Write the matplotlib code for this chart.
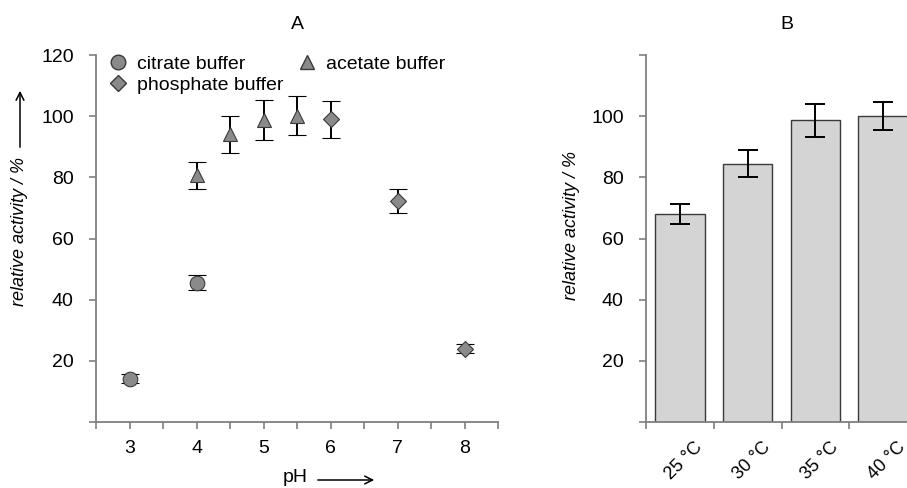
import matplotlib
matplotlib.use("Agg")
import matplotlib.pyplot as plt
import matplotlib.transforms as mtrans
from matplotlib.lines import Line2D

plt.rcParams["font.family"] = ["Liberation Sans", "DejaVu Sans"]
plt.rcParams["font.size"] = 14

# panel A: activity vs pH
citrate_ph = [3, 4]
citrate_act = [14.2, 45.6]
citrate_err = [1.5, 2.5]

acetate_ph = [4, 4.5, 5, 5.5]
acetate_act = [80.6, 94.1, 98.8, 100.2]
acetate_err = [4.5, 6.0, 6.5, 6.5]

phosphate_ph = [6, 7, 8]
phosphate_act = [99.0, 72.2, 24.0]
phosphate_err = [6.0, 4.0, 1.5]

# panel B: activity vs temperature
temps = ["25 °C", "30 °C", "35 °C", "40 °C"]
temp_act = [68.0, 84.5, 98.6, 100.0]
temp_err = [3.2, 4.5, 5.4, 4.6]

W, H = 907, 488
fig = plt.figure(figsize=(W / 100, H / 100), dpi=100)


def box(x0, x1, y0, y1):
    return [x0 / W, 1 - y1 / H, (x1 - x0) / W, (y1 - y0) / H]


spine_col = "#7f7f7f"
edge_col = "#3a3a3a"
mark_col = "#8a8a8a"
title_font = ["Liberation Sans Narrow", "Liberation Sans", "DejaVu Sans"]


def style_axes(ax):
    for s in ["top", "right"]:
        ax.spines[s].set_visible(False)
    for s in ["left", "bottom"]:
        ax.spines[s].set_color(spine_col)
        ax.spines[s].set_linewidth(1.3)
    ax.tick_params(which="both", direction="out", length=5, width=1.2,
                   color=spine_col, labelsize=14)
    ax.tick_params(axis="y", pad=11)
    ax.tick_params(axis="x", pad=8)
    ax.set_ylim(0, 120)
    ax.set_yticks(range(0, 121, 20))


axA = fig.add_axes(box(96, 498, 55, 422))
style_axes(axA)
ebkw = dict(ecolor="black", elinewidth=1.4, capsize=6.5, capthick=1.4, linestyle="none",
            markeredgecolor=edge_col, markeredgewidth=0.8, markerfacecolor=mark_col, zorder=3)
axA.errorbar(citrate_ph, citrate_act, yerr=citrate_err, marker="o", markersize=10.5, **ebkw)
axA.errorbar(acetate_ph, acetate_act, yerr=acetate_err, marker="^", markersize=10.5, **ebkw)
axA.errorbar(phosphate_ph, phosphate_act, yerr=phosphate_err, marker="D", markersize=8.5, **ebkw)
axA.set_xlim(2.5, 8.5)
axA.set_xticks(range(3, 9))
axA.set_xticks([2.5 + 0.5 * i for i in range(13)], minor=True)
axA.set_yticklabels([""] + [str(v) for v in range(20, 121, 20)])
axA.set_title("A", fontsize=14, pad=19, family=title_font)

handles = [
    Line2D([], [], marker="o", color="none", markerfacecolor=mark_col,
           markeredgecolor=edge_col, markersize=10.5),
    Line2D([], [], marker="D", color="none", markerfacecolor=mark_col,
           markeredgecolor=edge_col, markersize=8.5),
    Line2D([], [], marker="^", color="none", markerfacecolor=mark_col,
           markeredgecolor=edge_col, markersize=10.5),
]
axA.legend(handles, ["citrate buffer", "phosphate buffer", "acetate buffer"],
           ncol=2, frameon=False, loc="upper left", bbox_to_anchor=(0.01, 1.021),
           borderaxespad=0, handletextpad=0.5, columnspacing=0.7, labelspacing=0.18,
           fontsize=14, handlelength=1.0)

fig.text(20 / W, 1 - 231 / H, "relative activity / %", rotation=90, style="italic",
         ha="center", va="center", fontsize=13)
plt.annotate("", xy=(20 / W, 1 - 88 / H), xytext=(20 / W, 1 - 150 / H),
             xycoords="figure fraction",
             arrowprops=dict(arrowstyle="->", lw=1.1, color="black"))
fig.text(295 / W, 1 - 478 / H, "pH", ha="center", va="center", fontsize=14)
plt.annotate("", xy=(377 / W, 1 - 480 / H), xytext=(315 / W, 1 - 480 / H),
             xycoords="figure fraction",
             arrowprops=dict(arrowstyle="->", lw=1.1, color="black"))

axB = fig.add_axes(box(646, 917, 55, 422))
style_axes(axB)
xs = list(range(len(temps)))
axB.bar(xs, temp_act, width=0.73, color="#d4d4d4", edgecolor=edge_col, linewidth=1.0,
        yerr=temp_err, capsize=7, error_kw=dict(elinewidth=1.4, capthick=1.4, ecolor="black"))
axB.set_xlim(-0.5, 3.5)
axB.set_yticklabels([""] + [str(v) for v in range(20, 101, 20)] + [""])
axB.set_xticks(xs)
axB.set_xticklabels(temps, rotation=45, ha="right", rotation_mode="anchor", fontsize=13)
axB.tick_params(axis="x", which="major", length=0, pad=12)
axB.set_xticks([-0.5, 0.5, 1.5, 2.5], minor=True)
offset = mtrans.ScaledTranslation(14 / 100, 0, fig.dpi_scale_trans)
for lab in axB.get_xticklabels():
    lab.set_transform(lab.get_transform() + offset)
axB.set_title("B", fontsize=14, pad=19, x=0.52, family=title_font)
fig.text(572 / W, 1 - 226 / H, "relative activity / %", rotation=90, style="italic",
         ha="center", va="center", fontsize=13)

fig.savefig("out.png", dpi=100)
